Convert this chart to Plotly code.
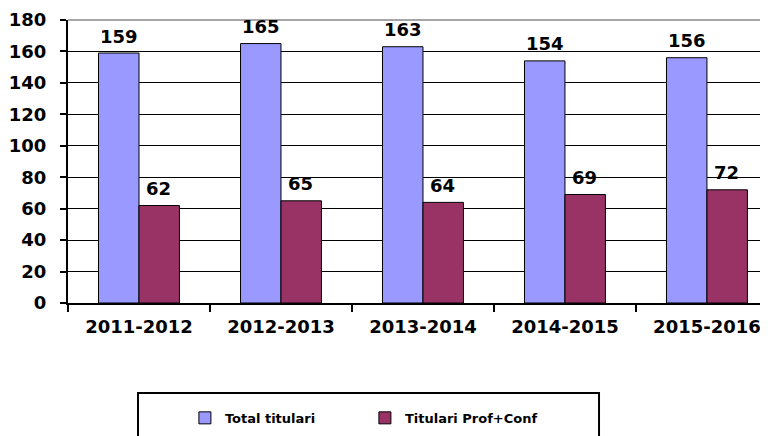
import plotly.graph_objects as go

categories = ["2011-2012", "2012-2013", "2013-2014", "2014-2015", "2015-2016"]
total_titulari = [159, 165, 163, 154, 156]
titulari_prof_conf = [62, 65, 64, 69, 72]
series_names = ["Total titulari", "Titulari Prof+Conf"]
y_ticks = [0, 20, 40, 60, 80, 100, 120, 140, 160, 180]

FONT = "DejaVu Sans"

fig = go.Figure()
fig.add_trace(go.Bar(
    x=categories, y=total_titulari, name=series_names[0],
    marker=dict(color="#9999FF", line=dict(color="#000000", width=1)),
))
fig.add_trace(go.Bar(
    x=categories, y=titulari_prof_conf, name=series_names[1],
    marker=dict(color="#993366", line=dict(color="#000000", width=1)),
))

# value labels above each bar (half a bar width left/right of the category centre)
annotations = []
for series, shift in ((total_titulari, -20), (titulari_prof_conf, 20)):
    for cat, val in zip(categories, series):
        annotations.append(dict(
            x=cat, y=val, xref="x", yref="y", text=str(val), showarrow=False,
            xanchor="center", yanchor="middle", xshift=shift, yshift=17,
            font=dict(family=FONT, size=18, color="black", weight="bold"),
        ))

fig.update_layout(
    width=768, height=436,
    margin=dict(l=60, r=8, t=12, b=141),
    paper_bgcolor="white", plot_bgcolor="white",
    barmode="group", bargap=0.43, bargroupgap=0,
    font=dict(family=FONT, color="black"),
    showlegend=True,
    legend=dict(orientation="h", x=0.167, y=-0.406, xanchor="left", yanchor="middle",
                entrywidth=135, entrywidthmode="pixels",
                font=dict(family=FONT, size=13, color="black", weight="bold"),
                bgcolor="rgba(0,0,0,0)"),
    xaxis=dict(range=[-0.5, 4.43], showline=True, linecolor="black", linewidth=2,
               ticks="outside", tickson="boundaries", ticklen=7, tickcolor="black", tickwidth=2,
               tickfont=dict(family=FONT, size=18, color="black", weight="bold"),
               ticklabelstandoff=6,
               showgrid=False, automargin=False),
    yaxis=dict(range=[0, 180], tickvals=y_ticks, showline=True, linecolor="black", linewidth=2,
               ticks="outside", ticklen=6, tickcolor="black", tickwidth=2,
               tickfont=dict(family=FONT, size=18, color="black", weight="bold"),
               ticklabelstandoff=10,
               showgrid=True, gridcolor="black", gridwidth=1, zeroline=False, automargin=False),
    annotations=annotations,
    shapes=[
        dict(type="line", xref="paper", yref="paper", x0=0, x1=1, y0=1, y1=1,
             line=dict(color="#888888", width=1.5)),
        dict(type="rect", xref="paper", yref="paper", x0=0.1, x1=0.7586, y0=-0.318, y1=-0.6,
             line=dict(color="black", width=2), fillcolor="rgba(0,0,0,0)"),
    ],
)

fig.write_html("out.html")
